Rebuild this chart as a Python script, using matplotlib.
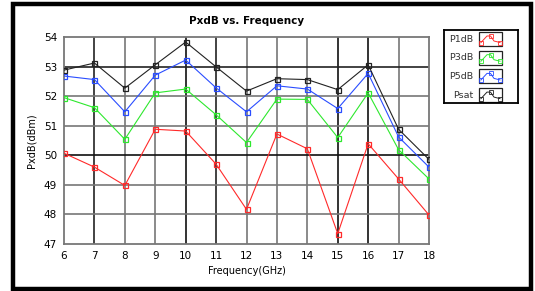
import matplotlib
matplotlib.use("Agg")
import matplotlib.pyplot as plt
from matplotlib.patches import Rectangle

freq = [6, 7, 8, 9, 10, 11, 12, 13, 14, 15, 16, 17, 18]
p1db = [50.07, 49.6, 48.98, 50.88, 50.82, 49.7, 48.17, 50.72, 50.22, 47.35, 50.39, 49.2, 47.98]
p3db = [51.95, 51.61, 50.54, 52.11, 52.24, 51.37, 50.43, 51.9, 51.89, 50.6, 52.11, 50.19, 49.2]
p5db = [52.68, 52.56, 51.47, 52.71, 53.22, 52.28, 51.47, 52.35, 52.24, 51.58, 52.77, 50.62, 49.6]
psat = [52.88, 53.12, 52.27, 53.06, 53.83, 52.99, 52.17, 52.59, 52.56, 52.22, 53.06, 50.88, 49.86]

names = ['P1dB', 'P3dB', 'P5dB', 'Psat']
series = [p1db, p3db, p5db, psat]
colors = ['#ff2a2a', '#2ee82e', '#2a4dff', '#222222']

plt.rcParams['font.family'] = 'DejaVu Sans'
W, H = 535, 291
fig = plt.figure(figsize=(W / 100, H / 100), dpi=100)
fig.patch.set_facecolor('white')

# outer black frame
fig.patches.append(Rectangle((12.5 / W, 1 - 288.5 / H), 518 / W, 285 / H, transform=fig.transFigure,
                             fill=False, edgecolor='black', linewidth=3.2))

ax = fig.add_axes([64 / W, 1 - 244 / H, 365 / W, 207 / H])
ax.set_xlim(6, 18)
ax.set_ylim(47, 54)
ax.set_xticks(freq)
ax.set_yticks(range(47, 55))

# grid lines with the mixed dark/grey look of the original
vcol = {7: '#222', 8: '#777', 9: '#777', 10: '#111', 11: '#222', 12: '#777', 13: '#777',
        14: '#777', 15: '#111', 16: '#111', 17: '#777'}
for x, c in vcol.items():
    ax.axvline(x, color=c, lw=1.2, zorder=1)
hcol = {48: '#777', 49: '#777', 50: '#111', 51: '#777', 52: '#777', 53: '#222'}
for y, c in hcol.items():
    ax.axhline(y, color=c, lw=1.2, zorder=1)

for vals, c, n in zip(series, colors, names):
    ax.plot(freq, vals, color=c, lw=0.8, marker='s', ms=3.6, mfc='none', mec=c, mew=0.9,
            label=n, zorder=3)

for s in ax.spines.values():
    s.set_color('#777')
    s.set_linewidth(1.3)
ax.tick_params(length=0, labelsize=7.5, pad=5)
ax.set_title('PxdB vs. Frequency', fontsize=7.5, fontweight='bold', pad=9)
ax.set_xlabel('Frequency(GHz)', fontsize=7, labelpad=4)
ax.set_ylabel('PxdB(dBm)', fontsize=7, labelpad=5)

# custom legend box
lg = fig.add_axes([444 / W, 1 - 103 / H, 74 / W, 73 / H])
lg.set_xlim(0, 74)
lg.set_ylim(73, 0)
lg.set_xticks([])
lg.set_yticks([])
for s in lg.spines.values():
    s.set_linewidth(1.3)
for i, (n, c) in enumerate(zip(names, colors)):
    yc = 9 + i * 18.7
    lg.text(29, yc, n, fontsize=6.8, color='#333', ha='right', va='center')
    lg.add_patch(Rectangle((35, yc - 7), 23, 14, fill=False, edgecolor='#222', lw=0.9))
    lg.plot([37, 43, 46.5, 50, 56], [yc + 3.5, yc - 3, yc - 3, yc + 2, yc + 3.5], color=c, lw=0.7,
            marker='s', ms=2.2, mfc='none', mec=c, mew=0.6, markevery=[0, 2, 4])

fig.savefig('out.png', dpi=100)
